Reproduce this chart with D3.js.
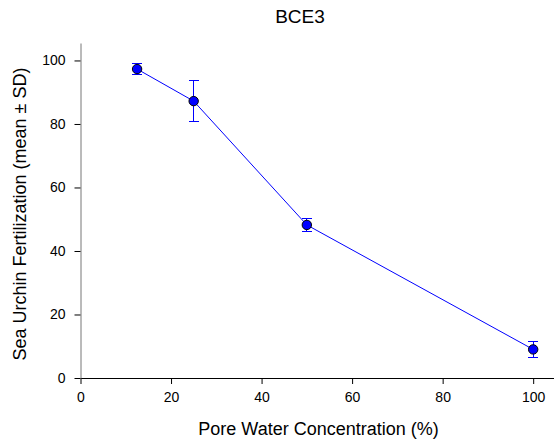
<!DOCTYPE html>
<html>
<head>
<meta charset="utf-8">
<script src="https://cdn.jsdelivr.net/npm/d3@7"></script>
<style>
  body { margin: 0; background: #fff; }
  text { font-family: "Liberation Sans", Arial, sans-serif; fill: #000; }
</style>
</head>
<body>
<div id="chart"></div>
<script>
// chart values
var concentration = [12.5, 25, 50, 100];
var fertMean = [97.3, 87.2, 48.2, 9.0];
var fertSD = [1.6, 6.4, 2.0, 2.6];
var xTicks = [0, 20, 40, 60, 80, 100];
var yTicks = [0, 20, 40, 60, 80, 100];

var W = 554, H = 448;
var margin = {top: 43, right: 0, bottom: 70, left: 80.5};
var w = W - margin.left - margin.right,
    h = H - margin.top - margin.bottom;

var svg = d3.select("#chart")
            .append("svg")
            .attr("width", W)
            .attr("height", H);

var g = svg.append("g")
           .attr("transform", "translate(" + margin.left + "," + margin.top + ")");

/***Scales***/
var xScale = d3.scaleLinear()
               .domain([0, 104.6])
               .range([0, w]);
var yScale = d3.scaleLinear()
               .domain([0, 105.5])
               .range([h, 0]);

/***Axes***/
var xAxis = d3.axisBottom(xScale).tickValues(xTicks).tickSize(6).tickSizeOuter(0).tickPadding(8);
var yAxis = d3.axisLeft(yScale).tickValues(yTicks).tickSize(6).tickSizeOuter(0).tickPadding(9);

var gx = g.append("g")
  .attr("transform", "translate(0," + h + ")")
  .call(xAxis)
  .attr("font-size", 14)
  .attr("font-family", "Liberation Sans, Arial, sans-serif");
gx.selectAll("path, line").attr("stroke", "#000");

var gy = g.append("g")
  .call(yAxis)
  .attr("font-size", 14)
  .attr("font-family", "Liberation Sans, Arial, sans-serif");
gy.select(".domain").attr("stroke", "#777");
gy.selectAll(".tick line").attr("stroke", "#000");

/***Data***/
var data = concentration.map(function(c, i) {
  return {x: c, y: fertMean[i], sd: fertSD[i]};
});

var line = d3.line()
  .x(function(d) { return xScale(d.x); })
  .y(function(d) { return yScale(d.y); });

g.append("path")
  .datum(data)
  .attr("fill", "none")
  .attr("stroke", "#0000ff")
  .attr("stroke-width", 1)
  .attr("d", line);

/***Error bars***/
var eb = g.selectAll(".eb")
  .data(data)
  .enter()
  .append("g")
  .attr("class", "eb")
  .attr("stroke", "#0000ff")
  .attr("stroke-width", 1)
  .attr("shape-rendering", "crispEdges");

eb.append("line")
  .attr("x1", function(d) { return xScale(d.x); })
  .attr("x2", function(d) { return xScale(d.x); })
  .attr("y1", function(d) { return yScale(d.y + d.sd); })
  .attr("y2", function(d) { return yScale(d.y - d.sd); });
eb.append("line")
  .attr("x1", function(d) { return xScale(d.x) - 5; })
  .attr("x2", function(d) { return xScale(d.x) + 5; })
  .attr("y1", function(d) { return yScale(d.y + d.sd); })
  .attr("y2", function(d) { return yScale(d.y + d.sd); });
eb.append("line")
  .attr("x1", function(d) { return xScale(d.x) - 5; })
  .attr("x2", function(d) { return xScale(d.x) + 5; })
  .attr("y1", function(d) { return yScale(d.y - d.sd); })
  .attr("y2", function(d) { return yScale(d.y - d.sd); });

/***Points***/
g.selectAll(".pt")
  .data(data)
  .enter()
  .append("circle")
  .attr("class", "pt")
  .attr("cx", function(d) { return xScale(d.x); })
  .attr("cy", function(d) { return yScale(d.y); })
  .attr("r", 4.7)
  .attr("fill", "#0000ff")
  .attr("stroke", "#000")
  .attr("stroke-width", 1);

/***Labels***/
svg.append("text")
  .attr("x", 300)
  .attr("y", 23)
  .attr("text-anchor", "middle")
  .style("font-size", "19px")
  .text("BCE3");

svg.append("text")
  .attr("x", 318.5)
  .attr("y", 435)
  .attr("text-anchor", "middle")
  .style("font-size", "18px")
  .text("Pore Water Concentration (%)");

svg.append("text")
  .attr("transform", "translate(26,214) rotate(-90)")
  .attr("text-anchor", "middle")
  .style("font-size", "18px")
  .text("Sea Urchin Fertilization (mean \u00b1 SD)");
</script>
</body>
</html>
